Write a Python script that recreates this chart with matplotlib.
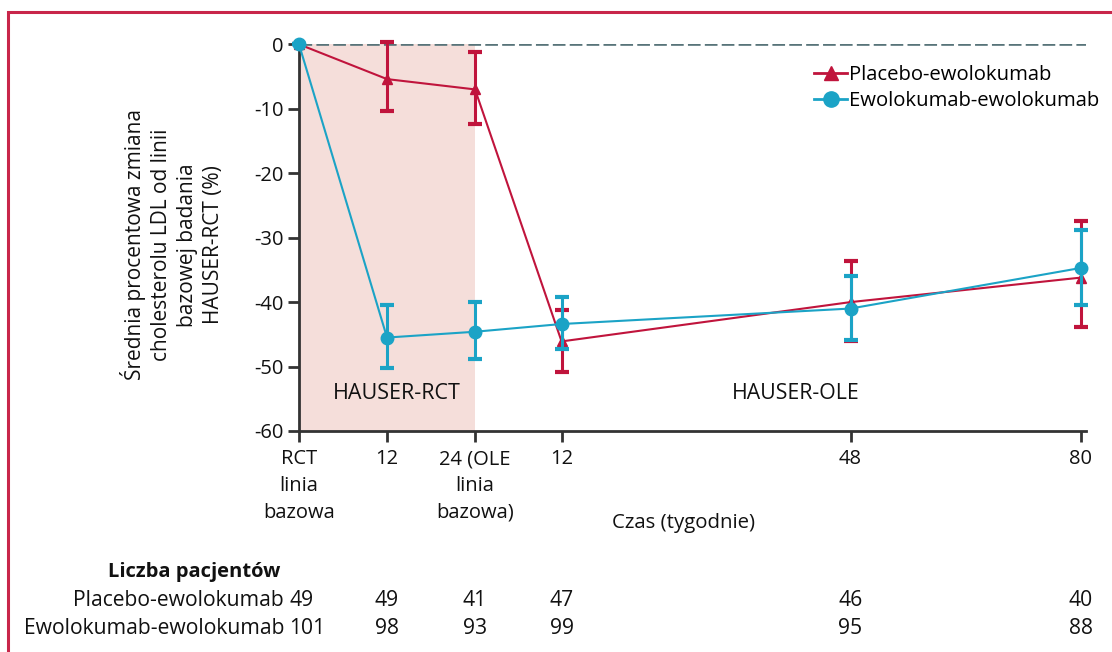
import matplotlib
matplotlib.use("Agg")
import matplotlib.pyplot as plt
import matplotlib.transforms as mtransforms
from matplotlib.patches import Rectangle
from matplotlib.lines import Line2D

plt.rcParams['font.family'] = ['Open Sans', 'DejaVu Sans']

# ---- data ----
x_pos = [0, 12, 24, 35.8, 75.2, 106.6]          # plotting positions of visits
x_labels = ["RCT\nlinia\nbazowa", "12", "24 (OLE\nlinia\nbazowa)", "12", "48", "80"]

placebo_mean = [0, -5.4, -7.0, -46.1, -40.0, -36.2]
placebo_low  = [0, -10.4, -12.3, -50.8, -46.0, -43.9]
placebo_high = [0, 0.4, -1.2, -41.2, -33.6, -27.4]

ewo_mean = [0, -45.5, -44.6, -43.4, -41.0, -34.7]
ewo_low  = [0, -50.3, -48.8, -47.2, -45.9, -40.5]
ewo_high = [0, -40.4, -40.0, -39.2, -36.0, -28.8]

n_placebo = [49, 49, 41, 47, 46, 40]
n_ewo = [101, 98, 93, 99, 95, 88]

series_names = ["Placebo-ewolokumab", "Ewolokumab-ewolokumab"]

RED = "#C0143C"
BLUE = "#1BA3C6"
PINK = "#F5DEDA"
TXT = "#111111"

W, H = 1112, 652
fig = plt.figure(figsize=(W / 100, H / 100), dpi=100)

# frame around figure
fig.patches.append(Rectangle((8 / W, -0.2), 1.3, 0.2 + 1 - 12 / H, transform=fig.transFigure,
                             fill=False, edgecolor="#C8264A", linewidth=2.2))

left_px, right_px, top_px, bot_px = 299, 1086, 44.3, 431
ax = fig.add_axes([left_px / W, 1 - bot_px / H, (right_px - left_px) / W, (bot_px - top_px) / H])
ax.set_xlim(0, 107.3)
ax.set_ylim(-60, 0)

# shaded RCT period
ax.axvspan(0, 24, ymin=0, ymax=1, color=PINK, zorder=0, lw=0)
# zero reference line
ax.axhline(0, color="#587479", lw=1.9, ls=(0, (4.8, 1.6)), zorder=1)

def yerr(mean, low, high):
    return [[m - l for m, l in zip(mean, low)], [h - m for m, h in zip(mean, high)]]

ax.errorbar(x_pos, placebo_mean, yerr=yerr(placebo_mean, placebo_low, placebo_high),
            color=RED, lw=1.5, marker="^", markersize=7, elinewidth=2.2, capsize=5,
            capthick=3, zorder=3, clip_on=False)
ax.errorbar(x_pos, ewo_mean, yerr=yerr(ewo_mean, ewo_low, ewo_high),
            color=BLUE, lw=1.5, marker="o", markersize=9, elinewidth=2.2, capsize=5,
            capthick=3, zorder=4, clip_on=False)

# axes styling
for s in ["top", "right"]:
    ax.spines[s].set_visible(False)
for s in ["left", "bottom"]:
    ax.spines[s].set_color("#333333")
    ax.spines[s].set_linewidth(2)
ax.set_yticks([0, -10, -20, -30, -40, -50, -60])
ax.set_yticklabels(["0", "-10", "-20", "-30", "-40", "-50", "-60"], fontsize=14.5)
ax.set_xticks(x_pos)
ax.set_xticklabels(x_labels, fontsize=14.5, linespacing=1.45, va="top")
ax.tick_params(axis="both", direction="out", length=8, width=2, color="#333333", colors=TXT)
ax.tick_params(axis="x", pad=5)
ax.tick_params(axis="y", pad=3)

# period labels
ax.text(13.4, -54.2, "HAUSER-RCT", ha="center", va="center", fontsize=15.5, color=TXT)
ax.text(67.7, -54.2, "HAUSER-OLE", ha="center", va="center", fontsize=15.3, color=TXT)

# y label
fig.text(172 / W, 1 - 245 / H,
         "Średnia procentowa zmiana\ncholesterolu LDL od linii\nbazowej badania\nHAUSER-RCT (%)",
         rotation=90, ha="center", va="center", multialignment="center", fontsize=15,
         linespacing=1.3, color=TXT)

# x label
fig.text(683 / W, 1 - 523 / H, "Czas (tygodnie)", ha="center", va="center", fontsize=14.7,
         color=TXT)

# legend
handles = [Line2D([], [], color=RED, marker="^", markersize=10, lw=2),
           Line2D([], [], color=BLUE, marker="o", markersize=11, lw=2)]
fig.legend(handles, series_names, loc="upper left", bbox_to_anchor=(814 / W, 1 - 65 / H),
           frameon=False, fontsize=14.6, handlelength=1.65, handletextpad=0.1,
           labelspacing=0.32, borderaxespad=0, borderpad=0)

# patient counts table
trans = mtransforms.blended_transform_factory(ax.transData, fig.transFigure)
fig.text(280 / W, 1 - 572 / H, "Liczba pacjentów", ha="right", va="center", fontsize=14.5,
         fontweight="bold", color=TXT)
rows = [(series_names[0], n_placebo, 1 - 600 / H), (series_names[1], n_ewo, 1 - 628 / H)]
for name, counts, yy in rows:
    fig.text(284 / W, yy, name, ha="right", va="center", fontsize=15.2, color=TXT)
    for i, (xp, c) in enumerate(zip(x_pos, counts)):
        if i == 0:
            fig.text(289 / W, yy, str(c), ha="left", va="center", fontsize=15.2, color=TXT)
        else:
            ax.text(xp, yy, str(c), transform=trans, ha="center", va="center", fontsize=15.2,
                    color=TXT)

fig.savefig("out.png", dpi=100)
